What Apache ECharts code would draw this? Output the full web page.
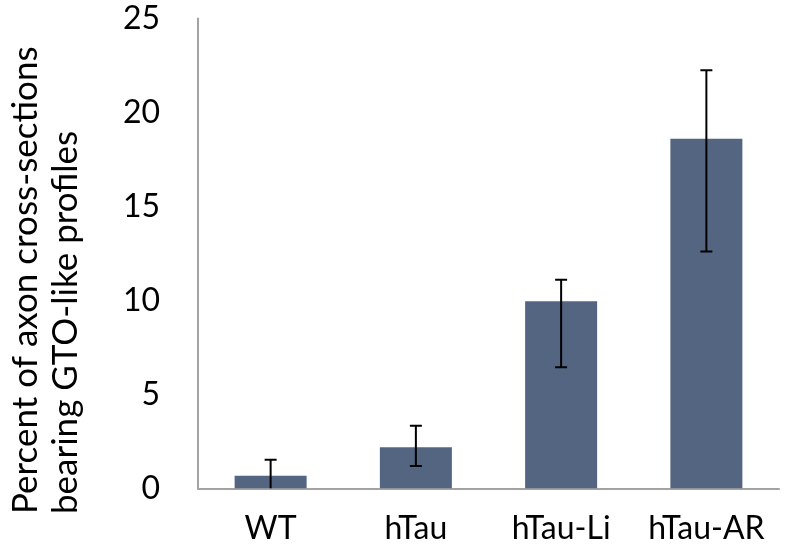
<!DOCTYPE html>
<html>
<head>
<meta charset="utf-8">
<script src="https://cdn.jsdelivr.net/npm/echarts@6/dist/echarts.min.js"></script>
<style>
html,body{margin:0;padding:0;background:#fff;}
#chart{width:785px;height:546px;}
</style>
</head>
<body>
<div id="chart"></div>
<script>
var categories = ['WT', 'hTau', 'hTau-Li', 'hTau-AR'];
var means = [0.67, 2.18, 9.95, 18.6];
var errHigh = [1.52, 3.33, 11.1, 22.25];
var errLow = [-0.1, 1.19, 6.44, 12.6];
var yTicks = [0, 5, 10, 15, 20, 25];
var yTitle = 'Percent of axon cross-sections\nbearing GTO-like profiles';

var FONT = 'Lato';
var chart = echarts.init(document.getElementById('chart'));
var errData = categories.map(function (c, i) { return [i, errLow[i], errHigh[i]]; });

chart.setOption({
  animation: false,
  backgroundColor: '#ffffff',
  grid: { left: 198, right: 6, top: 18.5, bottom: 57.7, containLabel: false },
  xAxis: {
    type: 'category',
    data: categories,
    axisLine: { show: true, lineStyle: { color: '#a3a3a3', width: 2 } },
    axisTick: { show: false },
    axisLabel: { color: '#000', fontFamily: FONT, fontSize: 32, margin: 24, interval: 0, hideOverlap: false }
  },
  yAxis: {
    type: 'value',
    min: yTicks[0],
    max: yTicks[yTicks.length - 1],
    interval: 5,
    axisLine: { show: true, lineStyle: { color: '#a3a3a3', width: 2 } },
    axisTick: { show: false },
    splitLine: { show: false },
    axisLabel: { color: '#000', fontFamily: FONT, fontSize: 32, margin: 38 }
  },
  graphic: [{
    type: 'text',
    x: 6,
    y: 514,
    rotation: Math.PI / 2,
    style: {
      text: yTitle,
      fontFamily: FONT,
      fontSize: 35,
      lineHeight: 40,
      fill: '#000',
      textAlign: 'left',
      textVerticalAlign: 'top'
    }
  }],
  series: [
    {
      type: 'bar',
      data: means,
      barWidth: 72,
      itemStyle: { color: '#536581' },
      z: 2
    },
    {
      type: 'custom',
      data: errData,
      clip: true,
      z: 3,
      renderItem: function (params, api) {
        var x = api.coord([api.value(0), 0])[0];
        var pLow = api.coord([api.value(0), api.value(1)]);
        var pHigh = api.coord([api.value(0), api.value(2)]);
        var half = 6;
        var st = { stroke: '#000', lineWidth: 2 };
        return {
          type: 'group',
          children: [
            { type: 'line', shape: { x1: x, y1: pLow[1], x2: x, y2: pHigh[1] }, style: st },
            { type: 'line', shape: { x1: x - half, y1: pHigh[1], x2: x + half, y2: pHigh[1] }, style: st },
            { type: 'line', shape: { x1: x - half, y1: pLow[1], x2: x + half, y2: pLow[1] }, style: st }
          ]
        };
      }
    }
  ]
});
</script>
</body>
</html>
